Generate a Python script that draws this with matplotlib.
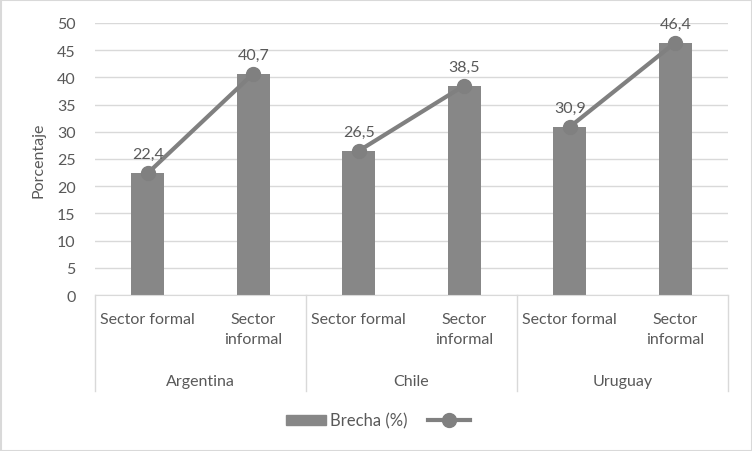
import matplotlib
matplotlib.use("Agg")
import matplotlib.pyplot as plt
from matplotlib.patches import Rectangle
from matplotlib.lines import Line2D
import matplotlib.transforms as mtrans

countries = ["Argentina", "Chile", "Uruguay"]
sectors = ["Sector formal", "Sector\ninformal"]
brecha = [22.4, 40.7, 26.5, 38.5, 30.9, 46.4]
yticks = [0, 5, 10, 15, 20, 25, 30, 35, 40, 45, 50]

plt.rcParams['font.family'] = ['Lato', 'DejaVu Sans']
txt = '#595959'
bar_c = '#878787'
line_c = '#808080'
fs = 11.5

W, H = 752, 452
fig = plt.figure(figsize=(W/100, H/100), dpi=100)
fig.patch.set_facecolor('white')
fig.add_artist(Rectangle((0.5/W, 0.5/H), 1-1/W, 1-1/H, transform=fig.transFigure,
                         fill=False, edgecolor='#d9d9d9', linewidth=1.5))

x0, x1 = 95, 728
y0, y1 = 296, 24
ax = fig.add_axes([x0/W, 1-y0/H, (x1-x0)/W, (y0-y1)/H])
n = len(brecha)
xs = list(range(n))
ax.set_xlim(-0.5, n-0.5)
ax.set_ylim(0, 50)
ax.bar(xs, brecha, width=0.31, color=bar_c, zorder=2)
for g in range(len(countries)):
    px = xs[2*g:2*g+2]
    py = brecha[2*g:2*g+2]
    ax.plot(px, py, color=line_c, lw=3, marker='o', ms=10, zorder=3,
            solid_capstyle='round')
for x, v in zip(xs, brecha):
    ax.annotate(f"{v:.1f}".replace('.', ','), (x, v), xytext=(0, 8.5),
                textcoords='offset points', ha='center', va='bottom',
                fontsize=fs, color=txt)
ax.set_yticks(yticks)
ax.set_yticklabels([str(t) for t in yticks], fontsize=fs, color=txt)
ax.tick_params(axis='y', length=0, pad=14)
ax.tick_params(axis='x', length=0, labelbottom=False)
ax.grid(axis='y', color='#d9d9d9', lw=1, zorder=0)
for s in ['top', 'right', 'left']:
    ax.spines[s].set_visible(False)
ax.spines['bottom'].set_color('#d9d9d9')
ax.set_ylabel('Porcentaje', fontsize=fs, color=txt, labelpad=8)

trans = mtrans.blended_transform_factory(ax.transData, fig.transFigure)
for i, x in enumerate(xs):
    ax.text(x, 1-313/H, sectors[i % 2], transform=trans, ha='center', va='top',
            fontsize=fs, color=txt, linespacing=1.55)
for g, c in enumerate(countries):
    ax.text(2*g+0.5, 1-382/H, c, transform=trans, ha='center', va='center',
            fontsize=fs, color=txt)
for b in [-0.5, 1.5, 3.5, 5.5]:
    ax.add_line(Line2D([b, b], [1-y0/H, 1-392/H], transform=trans, color='#d9d9d9',
                       lw=1, clip_on=False))

# legend
ly = 1-421/H
fig.add_artist(Rectangle((286/W, ly-5/H), 40/W, 10/H, transform=fig.transFigure,
                         color=bar_c))
fig.text(330/W, ly, 'Brecha (%)', fontsize=fs+0.5, color=txt, va='center', ha='left')
fig.add_artist(Line2D([428/W, 470/W], [ly, ly], transform=fig.transFigure,
                      color=line_c, lw=3))
fig.add_artist(Line2D([449/W], [ly], transform=fig.transFigure, color=line_c,
                      marker='o', ms=10, lw=0))

fig.savefig('out.png', dpi=100)
